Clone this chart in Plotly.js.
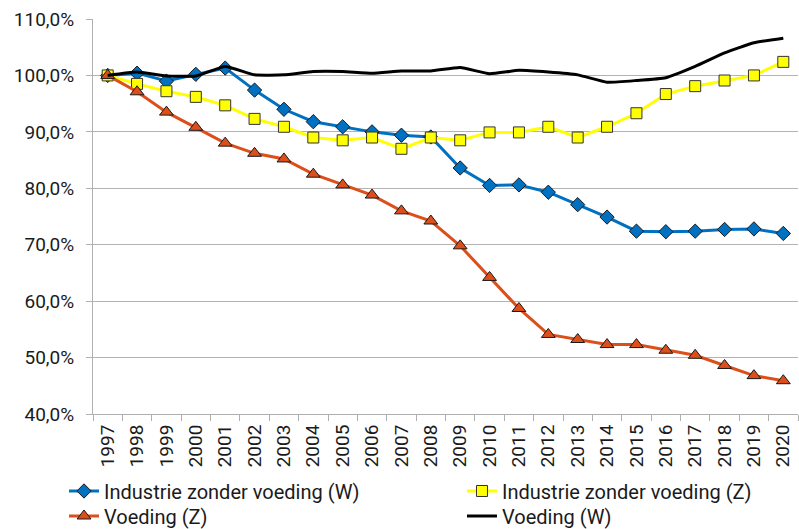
<!DOCTYPE html>
<html>
<head>
<meta charset="utf-8">
<script src="https://cdn.plot.ly/plotly-3.0.1.min.js"></script>
<style>html,body{margin:0;padding:0;background:#fff;}#chart{width:799px;height:529px;}</style>
</head>
<body>
<div id="chart"></div>
<script>
var years = ["1997","1998","1999","2000","2001","2002","2003","2004","2005","2006","2007","2008","2009","2010","2011","2012","2013","2014","2015","2016","2017","2018","2019","2020"];
var industrieW = [100,100.4,99.0,100.2,101.3,97.4,94.0,91.8,90.9,90.0,89.4,89.1,83.6,80.5,80.6,79.3,77.1,74.9,72.4,72.3,72.4,72.7,72.8,72.0];
var industrieZ = [100,98.5,97.2,96.2,94.7,92.3,90.9,89.0,88.5,89.0,87.0,89.0,88.5,89.9,89.9,90.9,89.0,90.9,93.3,96.7,98.1,99.1,100.0,102.4];
var voedingZ = [100,97.1,93.5,90.8,88.0,86.2,85.2,82.5,80.6,78.8,76.0,74.2,69.8,64.2,58.7,54.1,53.2,52.3,52.3,51.3,50.4,48.6,46.8,45.9];
var voedingW = [100,100.6,99.9,99.9,101.6,100.1,100.1,100.7,100.7,100.4,100.8,100.8,101.4,100.3,100.9,100.6,100.1,98.8,99.1,99.6,101.6,104.0,105.8,106.6];
var yTicks = [40,50,60,70,80,90,100,110];
var yTickText = yTicks.map(function(v){ return v.toFixed(1).replace(".", ",") + "%"; });

var traces = [
  {x: years, y: industrieW, name: "Industrie zonder voeding (W)", type: "scatter", mode: "lines+markers",
   legend: "legend",
   line: {color: "#0070C0", width: 3},
   marker: {symbol: "diamond", size: 11, color: "#0070C0", line: {color: "#1a1a1a", width: 1}}},
  {x: years, y: industrieZ, name: "Industrie zonder voeding (Z)", type: "scatter", mode: "lines+markers",
   legend: "legend2",
   line: {color: "#FFFF00", width: 3},
   marker: {symbol: "square", size: 11, color: "#FFFF00", line: {color: "#333333", width: 1}}},
  {x: years, y: voedingZ, name: "Voeding (Z)", type: "scatter", mode: "lines+markers",
   legend: "legend3",
   line: {color: "#DC4F1A", width: 3},
   marker: {symbol: "triangle-up", size: 12, color: "#DC4F1A", line: {color: "#1a1a1a", width: 1}}},
  {x: years, y: voedingW, name: "Voeding (W)", type: "scatter", mode: "lines",
   legend: "legend4",
   line: {color: "#000000", width: 3, shape: "spline", smoothing: 0.4}}
];

function leg(x, y) {
  return {
    orientation: "v", x: x, xanchor: "left", y: y, yanchor: "middle",
    font: {family: "Roboto, sans-serif", size: 20, color: "#1a1a1a"},
    bgcolor: "rgba(0,0,0,0)", itemwidth: 30, borderwidth: 0
  };
}

var col1 = -0.0411, col2 = 0.5234, row1 = -0.1949, row2 = -0.2582;

var layout = {
  width: 799, height: 529,
  margin: {l: 93, r: 1, t: 19, b: 115, autoexpand: false},
  paper_bgcolor: "#ffffff", plot_bgcolor: "#ffffff",
  font: {family: "Roboto, sans-serif", color: "#1a1a1a", size: 19},
  showlegend: true,
  xaxis: {
    type: "category", range: [-0.5, 23.5],
    tickson: "boundaries", ticks: "outside", ticklen: 6, tickcolor: "#b0b0b0",
    tickangle: -90, showgrid: false,
    showline: true, linecolor: "#b0b0b0", linewidth: 1,
    ticklabelstandoff: 2,
    tickfont: {family: "Roboto, sans-serif", size: 19, color: "#1a1a1a"}
  },
  yaxis: {
    range: [40, 110], tickvals: yTicks, ticktext: yTickText,
    ticks: "outside", ticklen: 6, tickcolor: "#b0b0b0",
    showgrid: true, gridcolor: "#b3b3b3", gridwidth: 1,
    showline: true, linecolor: "#b0b0b0", linewidth: 1,
    zeroline: false, ticklabelstandoff: 8,
    tickfont: {family: "Roboto, sans-serif", size: 19, color: "#1a1a1a"}
  },
  legend: leg(col1, row1),
  legend2: leg(col2, row1),
  legend3: leg(col1, row2),
  legend4: leg(col2, row2)
};

Plotly.newPlot("chart", traces, layout, {displayModeBar: false, staticPlot: true});
</script>
</body>
</html>
